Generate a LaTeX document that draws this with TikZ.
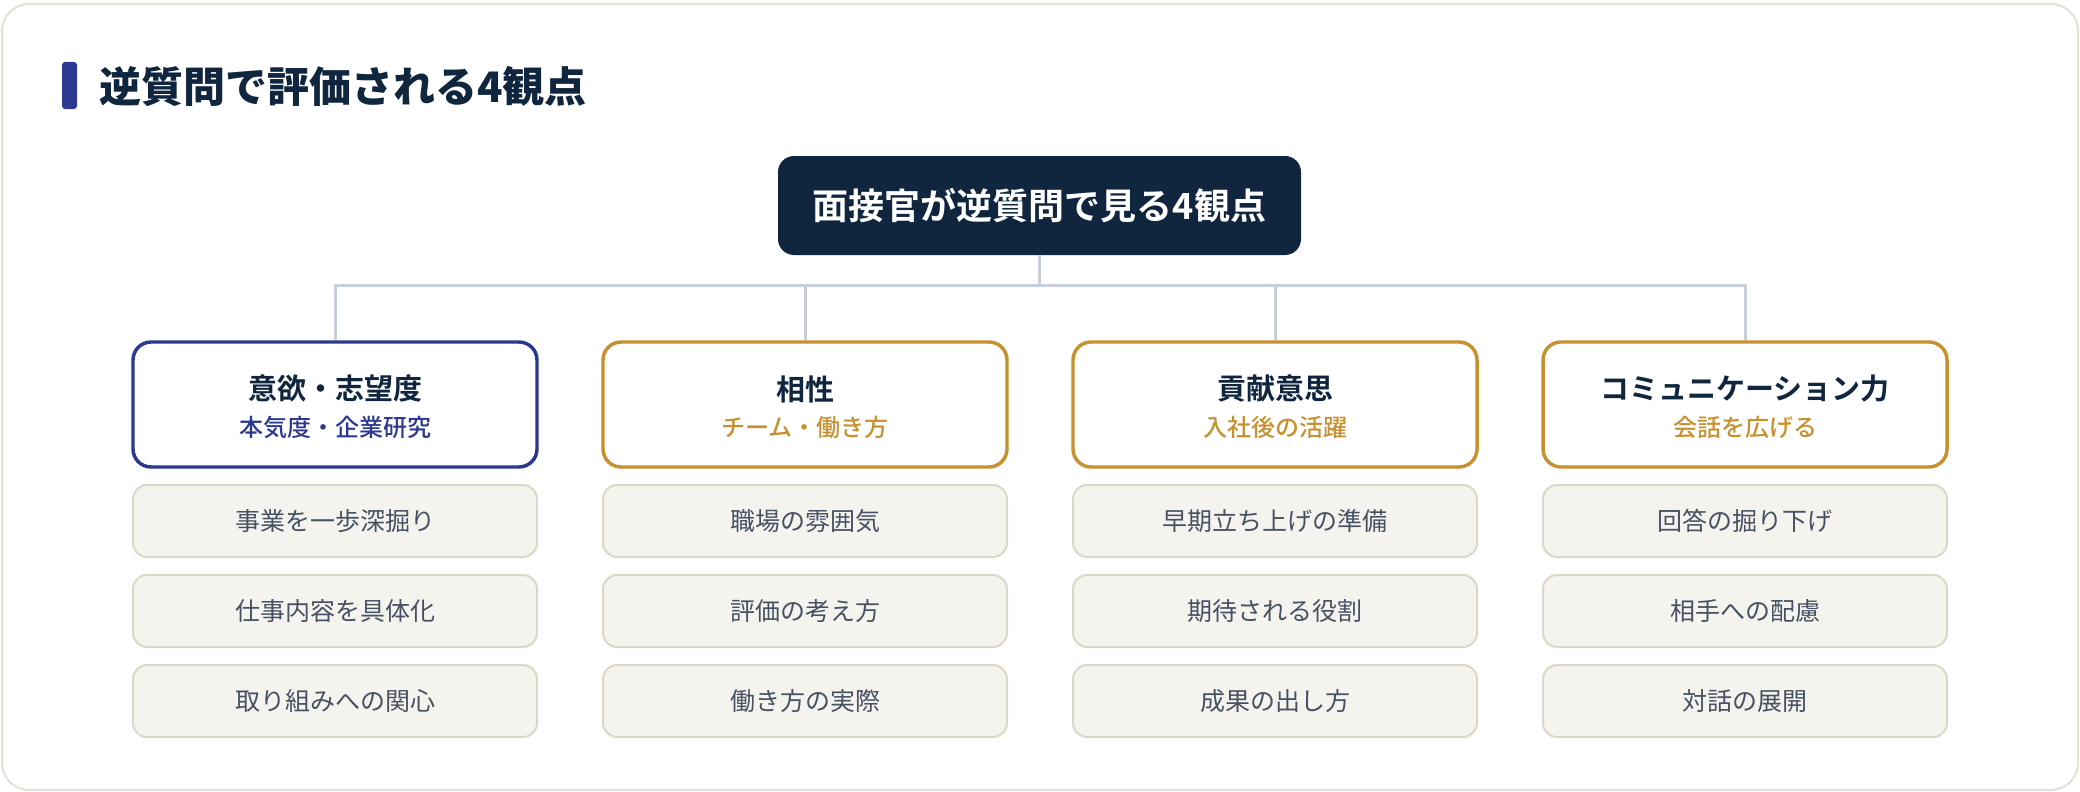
\documentclass[tikz,border=0pt]{standalone}
\usepackage{fontspec}
\setmainfont{Noto Sans CJK JP}[BoldFont={Noto Sans CJK JP Bold}]
\newfontfamily\cjkmed{Noto Sans CJK JP Medium}
\newfontfamily\cjkblack{Noto Sans CJK JP Black}
\definecolor{navy}{HTML}{10263F}
\definecolor{indigo}{HTML}{2B3990}
\definecolor{gold}{HTML}{C8912F}
\definecolor{connc}{HTML}{C9CFD8}
\definecolor{itemfill}{HTML}{F5F3EE}
\definecolor{itemdraw}{HTML}{DCD8C8}
\definecolor{itemtext}{HTML}{465263}
\definecolor{outer}{HTML}{E4E1D4}
\tikzset{
  rootbox/.style={draw=none, fill=navy, rounded corners=16*0.75pt, minimum width=523*0.75pt, minimum height=99*0.75pt, inner sep=0pt, text=white, font=\fontsize{27}{32}\selectfont\bfseries},
  catbox/.style={draw=#1, line width=2.6pt, fill=white, rounded corners=18*0.75pt, minimum width=404*0.75pt, minimum height=125*0.75pt, inner sep=0pt},
  cattitle/.style={text=navy, inner sep=0pt, font=\fontsize{21.75}{26}\selectfont\bfseries},
  catsub/.style={text=#1, inner sep=0pt, font=\fontsize{18}{22}\selectfont\cjkmed},
  itembox/.style={draw=itemdraw, line width=1.5pt, fill=itemfill, rounded corners=14*0.75pt, minimum width=404*0.75pt, minimum height=72*0.75pt, inner sep=0pt, text=itemtext, font=\fontsize{18.75}{22}\selectfont},
  conn/.style={draw=connc, line width=2.25pt}
}
\begin{document}
\begin{tikzpicture}[x=0.75pt, y=-0.75pt]
\useasboundingbox (0,0) rectangle (2080,792);
\draw[outer, line width=1.5pt, fill=white, rounded corners=27*0.75pt] (2,4) rectangle (2078,790);
% title
\fill[indigo, rounded corners=3*0.75pt] (62,62) rectangle (77,109);
\node[anchor=west, inner sep=0pt, text=navy, font=\fontsize{31.5}{36}\selectfont\cjkblack] (title) at (99,87) {逆質問で評価される4観点};
% root
\node[rootbox] (root) at (1039.5,205.5) {面接官が逆質問で見る4観点};
% categories
\node[catbox=indigo] (c1) at (335,404.5) {};
\node[catbox=gold] (c2) at (805,404.5) {};
\node[catbox=gold] (c3) at (1275,404.5) {};
\node[catbox=gold] (c4) at (1745,404.5) {};
\node[cattitle] (c1t) at (335,389) {意欲・志望度};
\node[catsub=indigo] (c1s) at (335,427) {本気度・企業研究};
\node[cattitle] (c2t) at (805,389) {相性};
\node[catsub=gold] (c2s) at (805,427) {チーム・働き方};
\node[cattitle] (c3t) at (1275,389) {貢献意思};
\node[catsub=gold] (c3s) at (1275,427) {入社後の活躍};
\node[cattitle] (c4t) at (1745,389) {コミュニケーション力};
\node[catsub=gold] (c4s) at (1745,427) {会話を広げる};
% connectors
\coordinate (j) at (1039.5,285);
\draw[conn] (root.south) -- (j);
\draw[conn] (c1.north) -- (c1.north |- j) -- (c4.north |- j) -- (c4.north);
\draw[conn] (c2.north) -- (c2.north |- j);
\draw[conn] (c3.north) -- (c3.north |- j);
% items
\node[itembox] (i11) at (335,521) {事業を一歩深掘り};
\node[itembox] (i12) at (335,611) {仕事内容を具体化};
\node[itembox] (i13) at (335,701) {取り組みへの関心};
\node[itembox] (i21) at (805,521) {職場の雰囲気};
\node[itembox] (i22) at (805,611) {評価の考え方};
\node[itembox] (i23) at (805,701) {働き方の実際};
\node[itembox] (i31) at (1275,521) {早期立ち上げの準備};
\node[itembox] (i32) at (1275,611) {期待される役割};
\node[itembox] (i33) at (1275,701) {成果の出し方};
\node[itembox] (i41) at (1745,521) {回答の掘り下げ};
\node[itembox] (i42) at (1745,611) {相手への配慮};
\node[itembox] (i43) at (1745,701) {対話の展開};
\end{tikzpicture}
\end{document}
